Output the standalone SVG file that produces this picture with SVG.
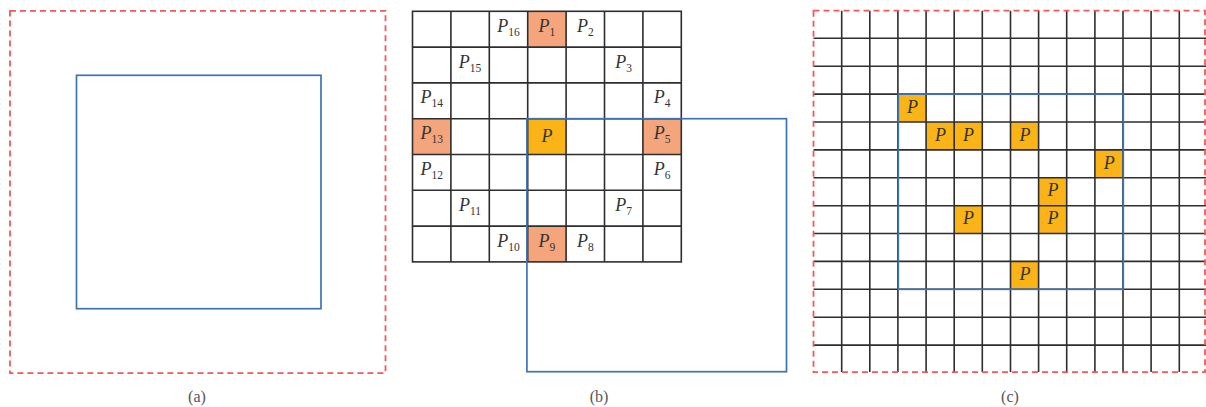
<svg xmlns="http://www.w3.org/2000/svg" width="1206" height="407" viewBox="0 0 1206 407">
<style>
.red{fill:none;stroke:#F05A5A;stroke-width:1.8;stroke-dasharray:6 4}
.blue{fill:none;stroke:#3E73B2;stroke-width:1.7}
.grid{stroke:#2E2E2E;stroke-width:1.6;fill:none}
.org{fill:#F5A57B}
.yel{fill:#FAB418}
.p{font-family:"Liberation Serif",serif;font-style:italic;font-size:18px;fill:#333;text-anchor:middle}
.s{font-style:normal;font-size:11.5px}
.cap{font-family:"Liberation Serif",serif;font-size:16px;fill:#555;text-anchor:middle}
</style>
<rect width="1206" height="407" fill="#fff"/>
<g id="panel-a">
<rect class="red" x="10" y="10.8" width="375.5" height="362.4"/>
<rect class="blue" x="76.5" y="75.3" width="244.5" height="233.4"/>
<text class="cap" x="197" y="402">(a)</text>
</g>
<g id="panel-b">
<g id="b-fills">
<rect class="org" x="527.7" y="11.3" width="38.4" height="35.8"/>
<rect class="org" x="412.5" y="118.7" width="38.4" height="35.8"/>
<rect class="yel" x="527.7" y="118.7" width="38.4" height="35.8"/>
<rect class="org" x="642.9" y="118.7" width="38.4" height="35.8"/>
<rect class="org" x="527.7" y="226.1" width="38.4" height="35.8"/>
</g>
<g id="b-grid" class="grid">
<rect x="412.5" y="11.3" width="268.8" height="250.6"/>
<path d="M450.9 11.3V261.9M489.3 11.3V261.9M527.7 11.3V261.9M566.1 11.3V261.9M604.5 11.3V261.9M642.9 11.3V261.9M412.5 47.1H681.3M412.5 82.9H681.3M412.5 118.7H681.3M412.5 154.5H681.3M412.5 190.3H681.3M412.5 226.1H681.3"/>
</g>
<g id="b-labels">
<text class="p" x="508.5" y="31.7">P<tspan class="s" dy="4">16</tspan></text>
<text class="p" x="546.9" y="31.7">P<tspan class="s" dy="4">1</tspan></text>
<text class="p" x="585.3" y="31.7">P<tspan class="s" dy="4">2</tspan></text>
<text class="p" x="470.1" y="67.5">P<tspan class="s" dy="4">15</tspan></text>
<text class="p" x="623.7" y="67.5">P<tspan class="s" dy="4">3</tspan></text>
<text class="p" x="431.7" y="103.3">P<tspan class="s" dy="4">14</tspan></text>
<text class="p" x="662.1" y="103.3">P<tspan class="s" dy="4">4</tspan></text>
<text class="p" x="431.7" y="139.1">P<tspan class="s" dy="4">13</tspan></text>
<text class="p" x="546.9" y="141.5">P</text>
<text class="p" x="662.1" y="139.1">P<tspan class="s" dy="4">5</tspan></text>
<text class="p" x="431.7" y="174.9">P<tspan class="s" dy="4">12</tspan></text>
<text class="p" x="662.1" y="174.9">P<tspan class="s" dy="4">6</tspan></text>
<text class="p" x="470.1" y="210.7">P<tspan class="s" dy="4">11</tspan></text>
<text class="p" x="623.7" y="210.7">P<tspan class="s" dy="4">7</tspan></text>
<text class="p" x="508.5" y="246.5">P<tspan class="s" dy="4">10</tspan></text>
<text class="p" x="546.9" y="246.5">P<tspan class="s" dy="4">9</tspan></text>
<text class="p" x="585.3" y="246.5">P<tspan class="s" dy="4">8</tspan></text>
</g>
<rect class="blue" x="526.9" y="118.7" width="259.6" height="253"/>
<text class="cap" x="599" y="402">(b)</text>
</g>
<g id="panel-c">
<g id="c-fills">
<rect class="yel" x="898.3" y="94.1" width="28.1" height="27.9"/>
<rect class="yel" x="926.4" y="122" width="28.1" height="27.9"/>
<rect class="yel" x="954.5" y="122" width="28.1" height="27.9"/>
<rect class="yel" x="1010.8" y="122" width="28.1" height="27.9"/>
<rect class="yel" x="1095.2" y="149.9" width="28.1" height="27.9"/>
<rect class="yel" x="1038.9" y="177.8" width="28.1" height="27.9"/>
<rect class="yel" x="954.5" y="205.7" width="28.1" height="27.9"/>
<rect class="yel" x="1038.9" y="205.7" width="28.1" height="27.9"/>
<rect class="yel" x="1010.8" y="261.3" width="28.1" height="27.9"/>
</g>
<g id="c-grid" class="grid">
<path d="M841.7 10.7V372M869.8 10.7V372M897.9 10.7V372M926.1 10.7V372M954.2 10.7V372M982.3 10.7V372M1010.5 10.7V372M1038.6 10.7V372M1066.7 10.7V372M1094.9 10.7V372M1123 10.7V372M1151.1 10.7V372M1179.3 10.7V372"/>
<path d="M813.5 38.3H1206M813.5 66.2H1206M813.5 94.1H1206M813.5 122H1206M813.5 149.9H1206M813.5 177.8H1206M813.5 205.7H1206M813.5 233.5H1206M813.5 261.4H1206M813.5 289.3H1206M813.5 317.2H1206M813.5 345.1H1206"/>
</g>
<g id="c-labels">
<text class="p" x="912.4" y="112.7">P</text>
<text class="p" x="940.5" y="140.6">P</text>
<text class="p" x="968.6" y="140.6">P</text>
<text class="p" x="1024.9" y="140.6">P</text>
<text class="p" x="1109.3" y="168.5">P</text>
<text class="p" x="1053" y="196.4">P</text>
<text class="p" x="968.6" y="224.3">P</text>
<text class="p" x="1053" y="224.3">P</text>
<text class="p" x="1024.9" y="279.9">P</text>
</g>
<rect class="blue" x="898.3" y="94.1" width="225" height="195.2"/>
<rect class="red" x="813.5" y="10.7" width="391.5" height="361.5"/>
<text class="cap" x="1010" y="402">(c)</text>
</g>
</svg>
